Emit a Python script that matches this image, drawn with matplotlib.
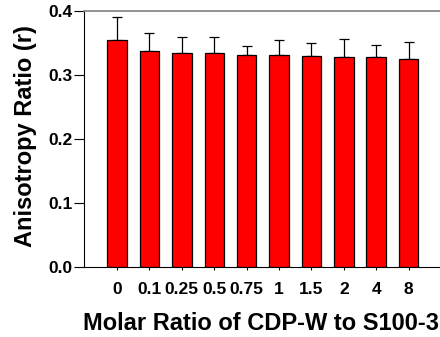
import matplotlib
matplotlib.use("Agg")
import matplotlib.pyplot as plt
import numpy as np

categories = ["0", "0.1", "0.25", "0.5", "0.75", "1", "1.5", "2", "4", "8"]
values = [0.354, 0.338, 0.335, 0.334, 0.331, 0.331, 0.329, 0.328, 0.328, 0.325]
errors = [0.036, 0.027, 0.025, 0.026, 0.015, 0.023, 0.021, 0.029, 0.019, 0.026]

plt.rcParams['font.family'] = ['Liberation Sans', 'DejaVu Sans']
plt.rcParams['font.weight'] = 'bold'

W, H = 440, 337
fig = plt.figure(figsize=(W / 100, H / 100), dpi=100)
left, right, top, bottom = 84, 441, 11, 267
ax = fig.add_axes([left / W, (H - bottom) / H, (right - left) / W, (bottom - top) / H])

x = np.arange(len(categories))
ax.bar(x, values, width=0.6, color="#ff0000", edgecolor="black", linewidth=0.9, zorder=2)
ax.errorbar(x, values, yerr=[np.zeros(len(errors)), errors], fmt="none",
            ecolor="black", elinewidth=0.9, capsize=3.5, capthick=0.9, zorder=1)

ax.set_xlim(-1.02, 10.0)
ax.set_ylim(0, 0.4)
ax.set_yticks([0.0, 0.1, 0.2, 0.3, 0.4])
ax.set_yticklabels(["0.0", "0.1", "0.2", "0.3", "0.4"])
ax.set_xticks(x)
ax.set_xticklabels(categories)

ax.tick_params(axis="y", direction="out", length=7, width=0.8, pad=1.5, labelsize=12.5)
ax.tick_params(axis="x", direction="out", length=2.5, width=0.8, pad=8, labelsize=12.5)
for lbl in ax.get_xticklabels() + ax.get_yticklabels():
    lbl.set_fontweight("bold")

ax.spines["right"].set_visible(False)
ax.spines["top"].set_color("#808080")
ax.spines["top"].set_linewidth(1.2)
ax.spines["left"].set_linewidth(0.8)
ax.spines["bottom"].set_linewidth(0.8)

ax.set_ylabel("Anisotropy Ratio (r)", fontsize=17, fontweight="bold")
ax.yaxis.set_label_coords(-(left - 26) / (right - left), (bottom - 136) / (bottom - top))
ax.yaxis.label.set_va("center")
ax.set_xlabel("Molar Ratio of CDP-W to S100-3", fontsize=17, fontweight="bold",
              ha="left")
ax.xaxis.set_label_coords(-1.0 / (right - left), -(323 - bottom) / (bottom - top))
ax.xaxis.label.set_va("center")

fig.savefig("out.png", dpi=100)
